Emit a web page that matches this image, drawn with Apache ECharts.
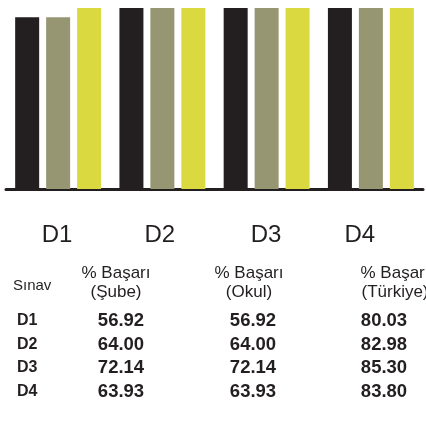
<!DOCTYPE html>
<html>
<head>
<meta charset="utf-8">
<script src="https://cdn.jsdelivr.net/npm/echarts@6/dist/echarts.min.js"></script>
<style>
  html, body { margin: 0; padding: 0; background: #fff; }
  #chart { width: 426px; height: 429px; }
</style>
</head>
<body>
<div id="chart"></div>
<script>
var categories = ["D1", "D2", "D3", "D4"];
var subeValues = [56.92, 64.00, 72.14, 63.93];
var okulValues = [56.92, 64.00, 72.14, 63.93];
var turkiyeValues = [80.03, 82.98, 85.30, 83.80];
var headerFirst = "Sınav";
var headers = ["% Başarı\n(Şube)", "% Başarı\n(Okul)", "% Başarı\n(Türkiye)"];

var dark = "#231f20";
var chartDom = document.getElementById("chart");
var myChart = echarts.init(chartDom);

// tablo: sutun ve satir konumlari
var headX = [116, 249, 395];
var colX = [121, 253, 384];
var rowY = [321, 345, 368, 392];
// etiketleri hafif sola kaydirmak icin sag bosluk
var labelPad = [2, 5, 1, 22];

var graphics = [];
graphics.push({
  type: "text", left: 13, top: 278,
  style: { text: headerFirst, font: "15px Arial, 'Liberation Sans'", fill: dark }
});
headers.forEach(function (h, i) {
  graphics.push({
    type: "text", x: headX[i], y: 283,
    style: { text: h, font: "17px Arial, 'Liberation Sans'", fill: dark,
      align: "center", verticalAlign: "middle", lineHeight: 19 }
  });
});
categories.forEach(function (c, r) {
  var rowVals = [subeValues[r], okulValues[r], turkiyeValues[r]];
  graphics.push({
    type: "text", x: 17, y: rowY[r],
    style: { text: c, font: "bold 16px Arial, 'Liberation Sans'", fill: dark,
      align: "left", verticalAlign: "middle" }
  });
  rowVals.forEach(function (v, i) {
    graphics.push({
      type: "text", x: colX[i], y: rowY[r],
      style: { text: v.toFixed(2), font: "bold 18.5px Arial, 'Liberation Sans'", fill: dark,
        align: "center", verticalAlign: "middle" }
    });
  });
});

var rich = {};
labelPad.forEach(function (p, i) {
  rich["c" + i] = { fontSize: 24, color: dark, fontFamily: "Arial, 'Liberation Sans'", padding: [0, p, 0, 0] };
});

var option = {
  animation: false,
  grid: { left: 6, right: 3, top: 8, bottom: 240 },
  xAxis: {
    type: "category",
    data: categories,
    axisLine: { lineStyle: { color: dark, width: 3 } },
    axisTick: { alignWithLabel: true, length: 9, lineStyle: { color: dark, width: 1.5 } },
    axisLabel: {
      color: dark, fontSize: 24, margin: 34, fontFamily: "Arial, 'Liberation Sans'",
      formatter: function (v, idx) { return "{c" + idx + "|" + v + "}"; },
      rich: rich
    }
  },
  yAxis: {
    type: "value", min: 0, max: 60, show: false,
    splitLine: { show: false }
  },
  series: [
    { name: "Şube", type: "bar", data: subeValues, barWidth: 24, barGap: "29%",
      itemStyle: { color: dark } },
    { name: "Okul", type: "bar", data: okulValues, barWidth: 24, barGap: "29%",
      itemStyle: { color: "#979673" } },
    { name: "Türkiye", type: "bar", data: turkiyeValues, barWidth: 24, barGap: "29%",
      itemStyle: { color: "#dbd940" } }
  ],
  graphic: graphics
};
option && myChart.setOption(option);
</script>
</body>
</html>
